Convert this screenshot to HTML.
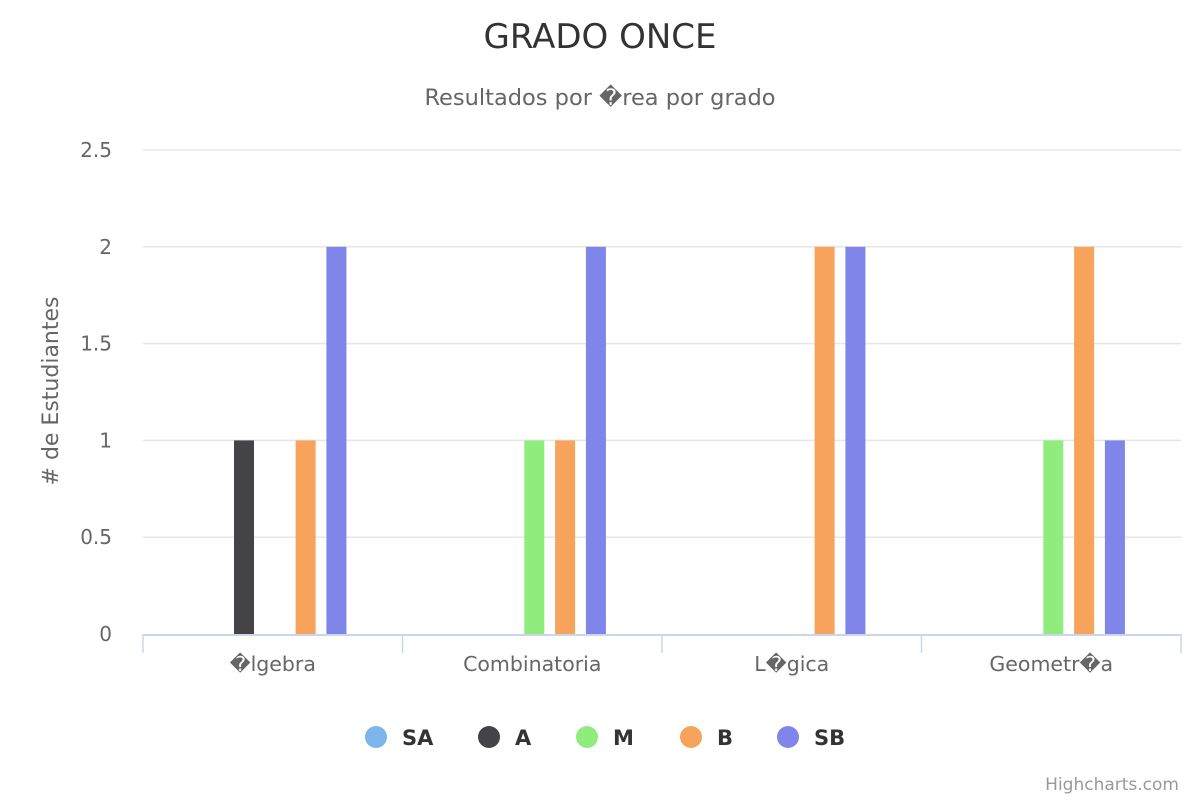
<!DOCTYPE html>
<html><head><meta charset="utf-8"><style>
body{margin:0;background:#fff;font-family:"Liberation Sans","DejaVu Sans",sans-serif;}
svg text{font-family:"DejaVu Sans","Liberation Sans",sans-serif;}
</style></head><body>
<svg id="c" width="1200" height="800" xmlns="http://www.w3.org/2000/svg">
<text x="600" y="48" text-anchor="middle" font-size="34" fill="#333">GRADO ONCE</text>
<text x="600" y="105" text-anchor="middle" font-size="22.5" fill="#666">Resultados por �rea por grado</text>
<text transform="translate(58,391) rotate(-90)" text-anchor="middle" font-size="22" fill="#666"># de Estudiantes</text>
<text x="1179" y="790" text-anchor="end" font-size="17" fill="#999">Highcharts.com</text>
<g id="grid"></g><g id="bars"></g><g id="xaxis"></g><g id="legend"></g>
</svg>
<script>
const categories=["�lgebra","Combinatoria","L�gica","Geometr�a"];
const seriesNames=["SA","A","M","B","SB"];
const seriesColors=["#7cb5ec","#434348","#90ed7d","#f7a35c","#8085e9"];
const valSA=[0,0,0,0];
const valA=[1,0,0,0];
const valM=[0,1,0,1];
const valB=[1,1,2,2];
const valSB=[2,2,2,1];
const yTicks=[0,0.5,1,1.5,2,2.5];
const tickLabels=["0","0.5","1","1.5","2","2.5"];
const series=[valSA,valA,valM,valB,valSB];
const NS="http://www.w3.org/2000/svg";
const L=143,R=1181,T=150,B=634,yMax=2.5;
const y=v=>B-(v/yMax)*(B-T);
const cw=(R-L)/categories.length;
const x=(ci,si)=>L+ci*cw+cw*0.232+si*cw*0.1187;
function mk(tag,attrs,parent){const e=document.createElementNS(NS,tag);for(const k in attrs)e.setAttribute(k,attrs[k]);parent.appendChild(e);return e;}
const grid=document.getElementById('grid');
yTicks.forEach((t,i)=>{
 if(i>0){const l=mk('line',{x1:L,x2:R,y1:y(t),y2:y(t),stroke:'#e6e6e6','stroke-width':1.5},grid);
 
 }
 const tx=mk('text',{x:112,y:y(t)+7,'text-anchor':'end','font-size':20,fill:'#666'},grid);
 tx.textContent=tickLabels[i];
 
 
});
const bars=document.getElementById('bars');
series.forEach((vals,si)=>vals.forEach((v,ci)=>{
 if(v<=0)return;
 const r=mk('rect',{x:x(ci,si),y:y(v),width:20,height:B-y(v),fill:seriesColors[si]},bars);
 
 
}));
const xa=document.getElementById('xaxis');
const al=mk('line',{x1:L,x2:R,y1:B+1,y2:B+1,stroke:'#ccd6eb','stroke-width':2},xa);


for(let i=0;i<=categories.length;i++){
 const tk=mk('line',{x1:L+i*cw,x2:L+i*cw,y1:B,y2:B+19,stroke:'#ccd6eb','stroke-width':1.5},xa);
 
 
}
categories.forEach((c,i)=>{
 const t=mk('text',{x:L+(i+0.5)*cw,y:671,'text-anchor':'middle','font-size':20.5,fill:'#666'},xa);
 t.textContent=c;
 
 
});
const lg=document.getElementById('legend');
const lx=[376,489,587,691,788];
seriesNames.forEach((n,i)=>{
 const g=mk('g',{},lg);
 
 
 mk('circle',{cx:lx[i],cy:737,r:11,fill:seriesColors[i]},g);
 const t=mk('text',{x:lx[i]+26,y:745,'font-size':21,'font-weight':'bold',fill:'#333'},g);
 t.textContent=n;
});
</script>
</body></html>
